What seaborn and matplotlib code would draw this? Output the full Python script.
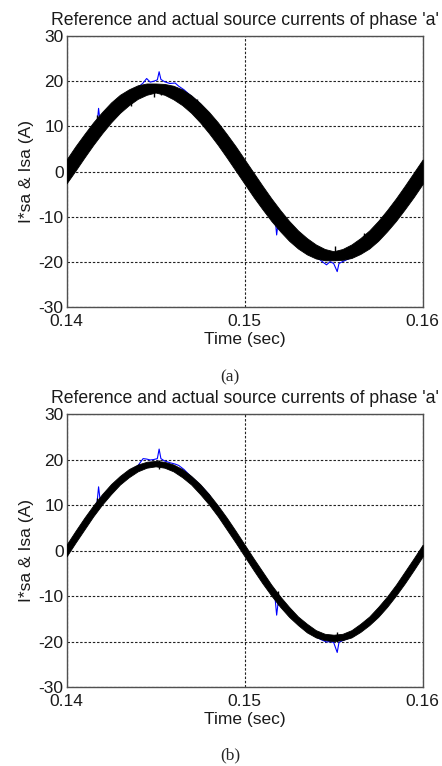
import numpy as np
import matplotlib
matplotlib.use("Agg")
import matplotlib.pyplot as plt
import seaborn as sns
import pandas as pd

# ---------------- data ----------------
t_ref = np.linspace(0.14, 0.16, 41)  # sampling grid of the reference band (sec)

# (a) reference current band (upper / lower edge of the thick black trace)
a_upper = [2.7, 5.6, 8.3, 10.9, 13.2, 15.3, 17.0, 18.2, 19.1, 19.5, 19.5,
           19.4, 19.0, 18.2, 16.9, 15.2, 13.2, 10.9, 8.3, 5.6, 2.7,
           -0.2, -3.1, -5.9, -8.5, -10.9, -13.0, -14.7, -16.1, -17.1, -17.6,
           -17.1, -16.1, -14.7, -13.0, -10.9, -8.5, -5.9, -3.1, -0.2, 2.7]
a_lower = [-2.6, 0.2, 3.1, 5.9, 8.5, 10.9, 13.0, 14.7, 16.1, 17.0, 17.5,
           17.0, 16.0, 14.7, 13.0, 10.9, 8.5, 5.9, 3.1, 0.2, -2.7,
           -5.6, -8.3, -10.9, -13.2, -15.3, -17.0, -18.3, -19.2, -19.6, -19.6,
           -19.5, -19.1, -18.2, -17.0, -15.3, -13.2, -10.9, -8.3, -5.6, -2.7]

# (b) reference current band
b_upper = [1.3, 4.3, 7.2, 9.9, 12.4, 14.6, 16.4, 17.9, 18.9, 19.5, 19.7,
           19.5, 18.9, 17.9, 16.4, 14.6, 12.4, 9.9, 7.2, 4.3, 1.3,
           -1.7, -4.6, -7.5, -10.1, -12.4, -14.5, -16.1, -17.5, -18.3, -18.5,
           -18.3, -17.5, -16.1, -14.5, -12.4, -10.1, -7.5, -4.6, -1.7, 1.3]
b_lower = [-1.3, 1.7, 4.6, 7.5, 10.1, 12.4, 14.5, 16.1, 17.4, 18.2, 18.5,
           18.2, 17.4, 16.1, 14.5, 12.4, 10.1, 7.5, 4.6, 1.7, -1.3,
           -4.3, -7.2, -9.9, -12.4, -14.6, -16.4, -18.0, -19.1, -19.7, -19.9,
           -19.7, -19.1, -17.9, -16.4, -14.6, -12.4, -9.9, -7.2, -4.3, -1.3]

# actual source current (blue) – times and values
a_blue_t = [0.1400, 0.1405, 0.1410, 0.1415, 0.1417, 0.1418, 0.1419, 0.1420, 0.1425,
            0.1430, 0.1435, 0.1440, 0.1443, 0.1445, 0.1447, 0.1449, 0.1451, 0.1452,
            0.1453, 0.1455, 0.1458, 0.1461, 0.1463, 0.1466, 0.1470, 0.1475, 0.1480,
            0.1483, 0.1484, 0.1485, 0.1490, 0.1495, 0.1500, 0.1505, 0.1510, 0.1515,
            0.1517, 0.1518, 0.1519, 0.1520, 0.1525, 0.1530, 0.1535, 0.1540, 0.1543,
            0.1546, 0.1548, 0.1550, 0.1552, 0.1553, 0.1555, 0.1560, 0.1565, 0.1570,
            0.1575, 0.1580, 0.1585, 0.1590, 0.1595, 0.1600]
a_blue_v = [0.3, 3.0, 5.9, 8.6, 9.8, 14.0, 10.5, 11.2, 13.5,
            15.5, 17.1, 18.6, 19.6, 20.6, 19.8, 20.0, 20.3, 22.1,
            20.4, 19.9, 19.5, 19.6, 18.9, 18.1, 16.7, 15.0, 12.8,
            10.8, 7.6, 9.8, 5.9, 3.0, -0.3, -3.2, -6.0, -8.7,
            -9.8, -14.0, -10.6, -11.3, -13.6, -15.7, -17.3, -18.8, -19.7,
            -20.6, -19.9, -20.3, -22.1, -20.3, -19.9, -19.0, -17.3, -15.3,
            -13.2, -10.8, -8.5, -5.9, -3.0, 0.0]
b_blue_t = a_blue_t
b_blue_v = [0.2, 3.0, 5.9, 8.7, 9.9, 14.0, 10.6, 11.3, 13.6,
            15.6, 17.2, 18.6, 20.2, 20.1, 19.9, 20.0, 20.2, 22.3,
            20.2, 19.7, 19.3, 19.0, 18.7, 17.8, 16.2, 14.4, 12.3,
            10.3, 9.0, 9.8, 5.9, 3.0, -0.2, -3.1, -6.0, -8.8,
            -10.0, -14.2, -10.8, -11.4, -13.7, -15.8, -17.4, -18.9, -19.6,
            -20.1, -20.0, -20.2, -22.4, -20.2, -19.8, -19.0, -17.3, -15.4,
            -13.2, -10.9, -8.9, -5.9, -3.0, 0.0]

# short black glitches on the reference trace: (time, from, to)
a_glitch_t = [0.1417, 0.1436, 0.1449, 0.1453, 0.1473, 0.1519, 0.1551, 0.1567]
a_glitch_y0 = [9.5, 14.5, 16.6, 17.0, 13.5, -9.5, -16.5, -13.6]
a_glitch_y1 = [12.5, 17.0, 19.0, 19.0, 16.0, -12.5, -19.5, -16.0]
b_glitch_t = [0.1417, 0.1452, 0.1519, 0.1552]
b_glitch_y0 = [9.5, 18.0, -9.0, -18.0]
b_glitch_y1 = [11.5, 20.0, -12.0, -20.0]

title = "Reference and actual source currents of phase 'a'"
xlabel = "Time (sec)"
ylabel = "I*sa & Isa (A)"
xticks = [0.14, 0.15, 0.16]
xticklabels = ["0.14", "0.15", "0.16"]
yticks = [-30, -20, -10, 0, 10, 20, 30]
captions = ["(a)", "(b)"]

# ---------------- styling ----------------
sns.set_style("white")
plt.rcParams['font.family'] = ['Liberation Sans', 'DejaVu Sans']
plt.rcParams['axes.unicode_minus'] = False

fig = plt.figure(figsize=(4.42, 7.66), dpi=100)
ax_a = fig.add_axes([0.1505, 0.5988, 0.8058, 0.3542])
ax_b = fig.add_axes([0.1505, 0.1031, 0.8058, 0.3564])

panels = [
    (ax_a, a_upper, a_lower, a_blue_t, a_blue_v, a_glitch_t, a_glitch_y0, a_glitch_y1),
    (ax_b, b_upper, b_lower, b_blue_t, b_blue_v, b_glitch_t, b_glitch_y0, b_glitch_y1),
]

for ax, up, lo, bt, bv, gt, gy0, gy1 in panels:
    df_blue = pd.DataFrame({"t": bt, "i": bv})
    sns.lineplot(data=df_blue, x="t", y="i", ax=ax, color="#0000ff", lw=0.8,
                 zorder=2, estimator=None, sort=False)
    ax.fill_between(t_ref, lo, up, color="black", lw=0.6, edgecolor="black", zorder=3)
    ax.vlines(gt, gy0, gy1, color="black", lw=1.0, zorder=4)

    ax.set_xlim(0.14, 0.16)
    ax.set_ylim(-30, 30)
    ax.set_xticks(xticks)
    ax.set_xticklabels(xticklabels)
    ax.set_yticks(yticks)
    ax.tick_params(axis="both", length=0, labelsize=12.5, colors="#1a1a1a")
    ax.tick_params(axis="x", pad=5)
    ax.tick_params(axis="y", pad=2)
    ax.grid(True, color="#222222", lw=0.8, linestyle=(0, (2.2, 1.6)))
    for s in ax.spines.values():
        s.set_color("#505050")
        s.set_linewidth(1.0)
    ax.set_title(title, fontsize=12.7, pad=8, color="#1a1a1a")
    ax.set_xlabel(xlabel, fontsize=12.5, labelpad=2, color="#1a1a1a")
    ax.set_ylabel(ylabel, fontsize=12.5, labelpad=3, color="#1a1a1a")
    ax.set_axisbelow(True)

fig.text(230 / 442, 1 - 377 / 766, captions[0], ha="center", va="center",
         fontsize=12.5, family=["Liberation Serif", "DejaVu Serif"])
fig.text(230 / 442, 1 - 755 / 766, captions[1], ha="center", va="center",
         fontsize=12.5, family=["Liberation Serif", "DejaVu Serif"])

fig.savefig("out.png", dpi=100)
